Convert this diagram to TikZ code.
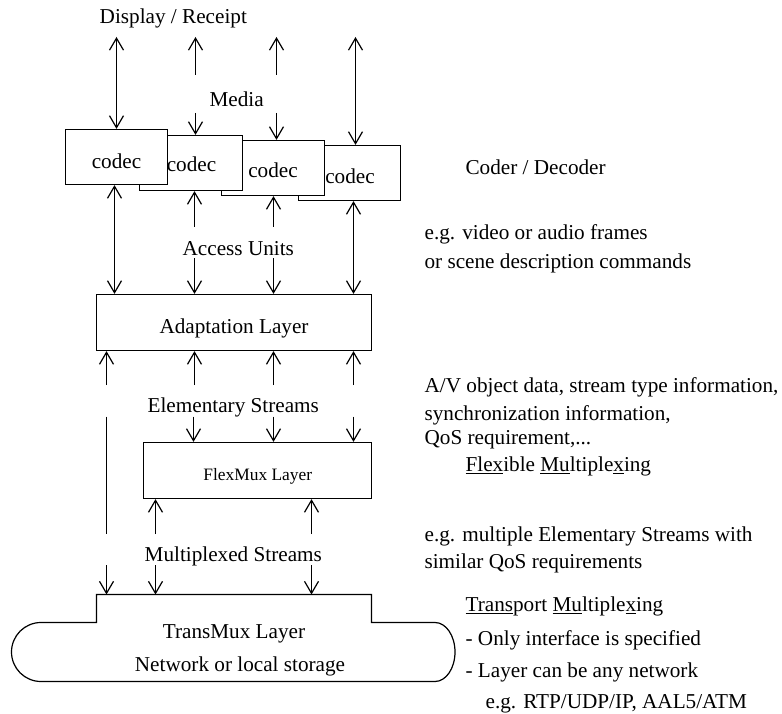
\documentclass[tikz,border=0pt]{standalone}
\usepackage{fontspec}
\setmainfont{Liberation Serif}
\usetikzlibrary{arrows.meta}

\begin{document}
\begin{tikzpicture}[x=1pt,y=-1pt,
  line width=1.2pt,
  font=\fontsize{21.2}{25}\selectfont,
  >={Straight Barb[length=12pt,width=14pt,line width=1.2pt]},
  box/.style={draw,fill=white,inner sep=0pt,minimum height=55pt},
  lbl/.style={anchor=base,inner sep=0pt},
  note/.style={anchor=base west,inner sep=0pt}]
\useasboundingbox (0,0) rectangle (782,714);

% ---- codec stack (back to front) ----
\node[box,minimum width=102pt] (c4) at (349.5,173) {};
\node[box,minimum width=103pt] (c3) at (273,168) {};
\node[box,minimum width=103pt] (c2) at (191,163) {};
\node[box,minimum width=102pt] (c1) at (116.5,157) {};
\node[lbl] (c1t) at (116.5,168.3) {codec};
\node[lbl] (c2t) at (191.5,172.0) {codec};
\node[lbl] (c3t) at (273,178.0) {codec};
\node[lbl] (c4t) at (350.0,183.3) {codec};

% ---- layer boxes ----
\node[box,minimum width=275pt,minimum height=56pt] (adapt) at (234,322.5) {};
\node[lbl] (adaptt) at (234,333.3) {Adaptation Layer};
\node[box,minimum width=228pt,minimum height=56pt] (flex) at (257.5,470.5) {};
\node[lbl,font=\fontsize{17.4}{20}\selectfont] (flext) at (257.8,480) {FlexMux Layer};

% ---- TransMux outline ----
\draw (96.5,622.5) -- (96.5,594.5) coordinate (tmtop) -- (371.5,594.5) -- (371.5,622.5)
  -- (435,622.5) arc[start angle=90,end angle=-90,x radius=20pt,y radius=29.5pt]
  -- (41,681.5) arc[start angle=270,end angle=90,radius=29.5pt] -- cycle;
\node[lbl] (tmux) at (234,638.3) {TransMux Layer};
\node[lbl] (tmuxs) at (240,671.7) {Network or local storage};

% ---- stream labels ----
\node[lbl] (disp) at (173.3,23.3) {Display / Receipt};
\node[lbl] (media) at (236.7,107) {Media};
\node[lbl] (au) at (238.3,256) {Access Units};
\node[lbl] (es) at (233.3,412.7) {Elementary Streams};
\node[lbl] (ms) at (233.3,561.7) {Multiplexed Streams};

% ---- connector end points ----
\coordinate (a1) at (116.5,37);
\coordinate (a2) at (195.5,37);
\coordinate (a3) at (276.5,37);
\coordinate (a4) at (355.5,37);
\coordinate (m2) at (195.5,75);
\coordinate (m3) at (276.5,75);
\coordinate (n2) at (195.5,113);
\coordinate (n3) at (276.5,113);
\coordinate (b1) at (114.5,0);
\coordinate (b4) at (353.5,0);
\coordinate (u2) at (194.5,226.7);
\coordinate (u3) at (273.5,226.7);
\coordinate (d2) at (194.5,258.3);
\coordinate (d3) at (273.5,258.3);
\coordinate (e1) at (106.5,385);
\coordinate (e2) at (194.5,385);
\coordinate (e3) at (273.5,385);
\coordinate (e4) at (353.5,385);
\coordinate (f1) at (106.5,416.7);
\coordinate (f2) at (193.5,416.7);
\coordinate (f3) at (273.5,416.7);
\coordinate (f4) at (353.5,416.7);
\coordinate (g1) at (106.5,534);
\coordinate (g2) at (155.5,534);
\coordinate (g3) at (311.5,534);
\coordinate (h1) at (106.5,565);
\coordinate (h2) at (155.5,565);
\coordinate (h3) at (311.5,565);

% ---- media side ----
\draw[<->] (a1) -- (a1 |- c1.north);
\draw[->] (m2) -- (a2);
\draw[->] (m3) -- (a3);
\draw[->] (n2) -- (n2 |- c2.north);
\draw[->] (n3) -- (n3 |- c3.north);
\draw[<->] (a4) -- (a4 |- c4.north);

% ---- codecs to adaptation layer ----
\draw[<->] (b1 |- c1.south) -- (b1 |- adapt.north);
\draw[->] (u2) -- (u2 |- c2.south);
\draw[->] (u3) -- (u3 |- c3.south);
\draw[->] (d2) -- (d2 |- adapt.north);
\draw[->] (d3) -- (d3 |- adapt.north);
\draw[<->] (b4 |- c4.south) -- (b4 |- adapt.north);

% ---- adaptation layer to FlexMux / TransMux ----
\foreach \p in {e1,e2,e3,e4} \draw[->] (\p) -- (\p |- adapt.south);
\foreach \p in {f2,f3,f4} \draw[->] (\p) -- (\p |- flex.north);
\draw (f1) -- (g1);
\draw[->] (g2) -- (g2 |- flex.south);
\draw[->] (g3) -- (g3 |- flex.south);
\foreach \p in {h1,h2,h3} \draw[->] (\p) -- (\p |- tmtop);

% ---- notes ----
\node[note] (n1) at (465,175) {Coder / Decoder};
\node[note] (n2a) at (424,240) {e.g. video or audio frames};
\node[note] (n2b) at (424,268.3) {or scene description commands};
\node[note] (n3a) at (424,392.7) {A/V object data, stream type information,};
\node[note] (n3b) at (424,420) {synchronization information,};
\node[note] (n3c) at (424,444) {QoS requirement,...};
\node[note] (n4) at (465,471.7) {\underline{Flex}ible \underline{Mu}ltiple\underline{x}ing};
\node[note] (n5a) at (424,541.7) {e.g. multiple Elementary Streams with};
\node[note] (n5b) at (424,568.3) {similar QoS requirements};
\node[note] (n6) at (465,611.7) {\underline{Trans}port \underline{Mu}ltiple\underline{x}ing};
\node[note] (n7) at (465,645) {- Only interface is specified};
\node[note] (n8) at (465,677.3) {- Layer can be any network};
\node[note] (n9) at (485,708.3) {e.g. RTP/UDP/IP, AAL5/ATM};
\end{tikzpicture}
\end{document}
